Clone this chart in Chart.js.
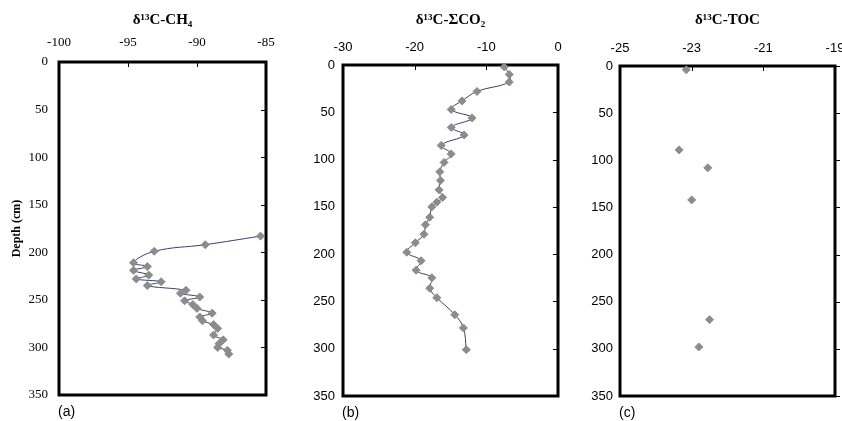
<!DOCTYPE html>
<html>
<head>
<meta charset="utf-8">
<script src="https://cdn.jsdelivr.net/npm/chart.js@4"></script>
<style>
  body { margin: 0; background: #fff; }
  #wrap { position: relative; width: 842px; height: 421px; overflow: hidden; }
  canvas { position: absolute; top: 0; }
</style>
</head>
<body>
<div id="wrap">
  <canvas id="chartA" width="290" height="421" style="left:0px"></canvas>
  <canvas id="chartB" width="290" height="421" style="left:290px"></canvas>
  <canvas id="chartC" width="262" height="421" style="left:580px"></canvas>
</div>
<script>
// depth (cm) and delta values
let ch4Depth = [183, 192, 199, 211, 215, 219, 224, 228, 231, 235, 240, 243, 247, 251, 255, 259, 264, 268, 272, 276, 280, 287, 292, 296, 300, 303, 307];
let ch4Value = [-85.4, -89.4, -93.1, -94.6, -93.6, -94.6, -93.5, -94.4, -92.6, -93.6, -90.8, -91.2, -89.8, -90.9, -90.3, -90.0, -88.9, -89.8, -89.6, -88.8, -88.5, -88.8, -88.1, -88.4, -88.5, -87.8, -87.7];

let co2Depth = [2, 10, 18, 28, 38, 47, 56, 66, 74, 85, 94, 103, 113, 122, 132, 140, 145, 150, 161, 169, 179, 188, 198, 207, 217, 225, 236, 246, 264, 278, 301];
let co2Value = [-7.5, -6.8, -6.8, -11.3, -13.4, -14.9, -12.0, -14.9, -13.1, -16.3, -14.9, -15.9, -16.5, -16.4, -16.6, -16.1, -16.9, -17.6, -17.9, -18.5, -18.7, -19.9, -21.1, -19.1, -19.8, -17.6, -17.9, -16.9, -14.4, -13.2, -12.8];

let tocDepth = [4, 89, 108, 142, 269, 298];
let tocValue = [-23.15, -23.35, -22.55, -23.0, -22.5, -22.8];

let ch4Ticks = [-100, -85, 5];
let co2Ticks = [-30, 0, 10];
let tocTicks = [-25, -19, 2];
let depthTicks = [0, 350, 50];

let toPoints = (xs, ys) => xs.map((x, i) => ({ x: x, y: ys[i] }));

// frame, inner tick marks and the panel letter
let framePlugin = {
  id: 'frame',
  beforeDatasetsDraw: (chart, args, opts) => {
    let ctx = chart.ctx;
    let a = chart.chartArea;
    let sx = chart.scales.x, sy = chart.scales.y;
    ctx.save();
    ctx.strokeStyle = '#000';
    ctx.lineWidth = 1;
    ctx.beginPath();
    sx.ticks.forEach(t => {
      let px = Math.round(sx.getPixelForValue(t.value)) + 0.5;
      ctx.moveTo(px, a.top);
      ctx.lineTo(px, a.top + 5);
    });
    sy.ticks.forEach(t => {
      let py = Math.round(sy.getPixelForValue(t.value)) + 0.5;
      ctx.moveTo(a.right, py);
      ctx.lineTo(a.right + opts.tickDir * 5, py);
    });
    ctx.stroke();
    ctx.lineWidth = 3;
    ctx.strokeRect(a.left, a.top, a.right - a.left, a.bottom - a.top);
    ctx.fillStyle = '#000';
    ctx.font = '14px "Liberation Sans", Arial, sans-serif';
    ctx.textBaseline = 'middle';
    ctx.textAlign = 'left';
    ctx.fillText(opts.label, a.left - 1, a.bottom + 17);
    ctx.restore();
  }
};

let makeChart = (id, xs, ys, xr, title, cfg) => {
  let tickFont = { family: cfg.family, size: cfg.size };
  return new Chart(document.getElementById(id), {
    type: 'scatter',
    data: {
      datasets: [{
        data: toPoints(xs, ys),
        showLine: cfg.line,
        borderColor: cfg.line ? '#3d3d6b' : '#8c8c8c',
        borderWidth: 1,
        tension: 0.4,
        pointStyle: 'rectRot',
        pointRadius: 4,
        pointBackgroundColor: '#8c8c8c',
        pointBorderColor: '#8c8c8c',
        pointBorderWidth: 1,
        clip: false
      }]
    },
    options: {
      responsive: false,
      animation: false,
      events: [],
      layout: { padding: { left: 0, top: 0, right: cfg.padRight, bottom: 421 - cfg.bottom } },
      plugins: {
        legend: { display: false },
        title: { display: false },
        tooltip: { enabled: false },
        frame: { label: cfg.label, tickDir: cfg.tickDir }
      },
      scales: {
        x: {
          type: 'linear',
          position: 'top',
          min: xr[0],
          max: xr[1],
          grid: { display: false, drawTicks: false },
          border: { display: false },
          ticks: { stepSize: xr[2], color: '#000', font: tickFont, padding: cfg.xPad, autoSkip: false, maxRotation: 0 },
          title: {
            display: true,
            text: title,
            color: '#000',
            font: { family: '"Liberation Serif", "Times New Roman", serif', size: 15, weight: 'bold' },
            padding: { top: 11, bottom: 0 }
          },
          afterFit: s => { s.height = cfg.top; s.paddingLeft = 0; s.paddingRight = 0; }
        },
        y: {
          type: 'linear',
          position: 'left',
          reverse: true,
          min: depthTicks[0],
          max: depthTicks[1],
          grid: { display: false, drawTicks: false },
          border: { display: false },
          ticks: { stepSize: depthTicks[2], color: '#000', font: tickFont, padding: cfg.yPad },
          title: {
            display: cfg.yTitle,
            text: 'Depth (cm)',
            color: '#000',
            font: { family: '"Liberation Serif", "Times New Roman", serif', size: 12, weight: 'bold' },
            padding: { top: 10, bottom: 0 }
          },
          afterFit: s => { s.width = cfg.left; s.paddingTop = 0; s.paddingBottom = 0; }
        }
      }
    },
    plugins: [framePlugin]
  });
};

let serif = '"Liberation Serif", "Times New Roman", serif';
let sans = '"Liberation Sans", Arial, sans-serif';

makeChart('chartA', ch4Value, ch4Depth, ch4Ticks, 'δ¹³C-CH₄',
  { family: serif, size: 13, line: true, left: 59, top: 62, bottom: 395, padRight: 24, xPad: 12, yPad: 11, yTitle: true, label: '(a)', tickDir: -1 });

makeChart('chartB', co2Value, co2Depth, co2Ticks, 'δ¹³C-ΣCO₂',
  { family: sans, size: 13, line: true, left: 53, top: 65, bottom: 396, padRight: 22, xPad: 10, yPad: 8, yTitle: false, label: '(b)', tickDir: -1 });

makeChart('chartC', tocValue, tocDepth, tocTicks, 'δ¹³C-TOC',
  { family: sans, size: 13, line: false, left: 40, top: 66, bottom: 396, padRight: 7, xPad: 10, yPad: 7, yTitle: false, label: '(c)', tickDir: 1 });
</script>
</body>
</html>
